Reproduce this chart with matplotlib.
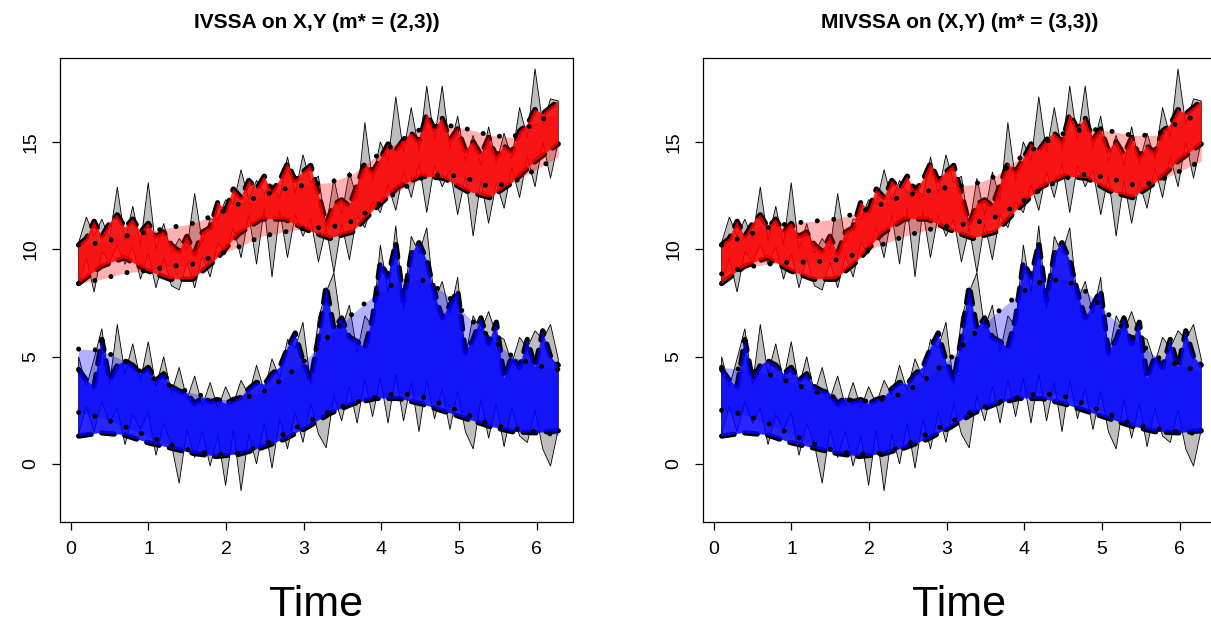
import matplotlib
matplotlib.use("Agg")
import matplotlib.pyplot as plt
import numpy as np

plt.rcParams["font.family"] = ["Liberation Sans", "DejaVu Sans"]

# time grids: fine for the noisy series, coarse for the smooth curves
t = np.linspace(0.1, 6.28, 63)
ts = np.linspace(0.1, 6.28, 22)

# ---- X series (red) ----
x_obs_lo = [8.3, 9.6, 8.0, 9.9, 9.4, 10.2, 9.3, 10.1, 8.6, 9.8, 8.2, 9.6, 8.3, 8.1, 9.4,
            8.2, 9.7, 8.7, 10.3, 9.8, 11.0, 9.6, 11.6, 9.3, 11.9, 8.7, 11.8, 9.6, 11.6,
            10.6, 11.4, 9.4, 11.0, 8.9, 11.2, 9.5, 11.6, 11.0, 12.2, 11.7, 13.0, 11.8,
            13.6, 12.4, 14.0, 11.7, 13.9, 12.9, 13.7, 11.6, 13.4, 10.6, 13.2, 11.2, 13.1,
            11.9, 13.8, 12.4, 14.3, 12.9, 15.0, 13.3, 15.0]
x_obs_hi = [10.3, 11.5, 10.6, 11.4, 10.5, 12.9, 10.4, 12.0, 10.2, 13.1, 10.0, 11.2, 9.8,
            10.5, 10.0, 12.6, 10.3, 11.4, 11.4, 12.3, 12.1, 13.7, 12.3, 13.2, 12.6, 13.0,
            12.4, 14.3, 12.6, 14.4, 13.1, 13.4, 11.0, 13.3, 11.6, 13.6, 12.3, 15.9, 13.2,
            15.0, 14.1, 17.1, 14.5, 16.6, 14.6, 17.6, 15.1, 17.6, 14.7, 16.2, 14.1, 15.3,
            13.9, 15.7, 14.0, 15.4, 14.2, 16.6, 15.2, 18.4, 15.8, 17.0, 16.9]
x_true_lo = [8.4, 9.2, 9.6, 9.0, 8.6, 8.6, 9.5, 10.7, 11.4, 11.4, 10.9, 10.5, 10.8, 11.9,
             12.9, 13.4, 13.3, 12.7, 12.4, 13.1, 14.1, 14.9]
x_true_hi = [10.2, 10.5, 11.3, 10.6, 11.2, 11.6, 11.0, 11.4, 10.8, 11.2, 10.6, 10.8, 10.2,
             9.9, 10.6, 9.8, 10.8, 11.0, 12.2, 11.8, 12.8, 12.4, 13.2, 12.8, 13.4, 12.7,
             13.2, 14.0, 13.2, 13.6, 13.9, 12.6, 11.2, 12.1, 12.3, 12.0, 13.0, 14.0, 13.6,
             14.2, 14.9, 14.6, 15.1, 15.4, 15.0, 16.3, 15.6, 16.1, 15.1, 15.6, 14.6, 15.0,
             14.4, 15.2, 14.3, 14.8, 14.5, 15.5, 15.8, 16.5, 16.3, 16.6, 16.9]
x_ivssa_lo = [8.4, 8.6, 8.9, 9.0, 9.2, 9.3, 9.7, 10.1, 10.6, 10.8, 11.0, 11.0, 11.3, 12.0,
              12.7, 13.3, 13.5, 13.3, 12.9, 13.1, 13.7, 14.3]
x_ivssa_hi = [10.2, 10.3, 10.6, 10.8, 11.0, 11.2, 11.6, 12.1, 12.5, 12.8, 13.0, 13.1, 13.5,
              14.3, 15.0, 15.6, 15.8, 15.6, 15.3, 15.2, 15.9, 16.4]
x_mivssa_lo = [8.85, 9.15, 9.3, 9.4, 9.4, 9.5, 9.8, 10.2, 10.6, 10.9, 11.1, 11.2, 11.5,
               12.1, 12.8, 13.3, 13.5, 13.3, 13.0, 13.1, 13.6, 14.1]
x_mivssa_hi = [10.2, 10.6, 11.0, 11.2, 11.3, 11.4, 11.7, 12.1, 12.5, 12.7, 12.9, 13.0, 13.4,
               14.2, 14.9, 15.4, 15.6, 15.5, 15.3, 15.3, 15.9, 16.3]

# ---- Y series (blue) ----
y_obs_lo = [1.4, 2.7, 1.5, 2.9, 1.9, 2.6, 0.9, 2.3, 1.6, 2.4, 0.4, 1.9, 0.9, -0.9, 1.6,
            0.3, 1.5, -0.1, 1.3, -1.0, 1.6, -1.25, 1.4, 0.0, 1.9, -0.2, 2.1, 0.7, 2.4, 1.0,
            2.8, 1.4, 0.75, 3.2, 2.0, 3.6, 1.9, 3.9, 2.2, 4.0, 1.9, 4.2, 2.0, 3.8, 1.5, 3.9,
            2.1, 3.5, 1.6, 3.4, 1.5, 0.7, 3.0, 1.2, 2.8, 0.8, 2.6, 1.3, 1.0, 2.5, 0.7, -0.1,
            1.6]
y_obs_hi = [5.0, 3.6, 4.9, 6.3, 3.7, 6.5, 4.2, 5.6, 3.9, 5.7, 3.6, 5.0, 3.3, 4.5, 3.0, 4.1,
            2.7, 3.8, 2.6, 3.6, 2.8, 3.9, 3.2, 4.6, 3.4, 4.9, 4.0, 5.8, 5.4, 6.6, 3.7, 6.8,
            8.0, 8.9, 6.3, 7.4, 5.2, 6.9, 6.4, 10.2, 8.0, 11.1, 7.2, 10.6, 9.8, 11.0, 7.6,
            8.5, 7.0, 8.7, 5.0, 6.9, 6.2, 7.1, 6.0, 5.8, 4.7, 5.9, 5.4, 6.2, 5.8, 6.5, 4.9]
y_true_lo = [1.3, 1.45, 1.35, 1.0, 0.75, 0.5, 0.35, 0.45, 0.75, 1.15, 1.7, 2.35, 2.8, 3.05,
             3.05, 2.8, 2.45, 2.1, 1.75, 1.5, 1.45, 1.55]
y_true_hi = [4.4, 3.9, 3.6, 5.8, 3.9, 4.6, 4.8, 4.6, 4.2, 4.5, 3.9, 4.2, 3.6, 3.4, 3.3, 2.8,
             3.1, 2.9, 3.0, 2.8, 3.0, 3.1, 3.5, 3.8, 3.7, 4.2, 4.5, 5.4, 6.1, 4.8, 3.9, 5.9,
             8.3, 6.3, 6.8, 5.9, 5.7, 5.4, 6.8, 9.4, 8.7, 10.3, 7.6, 9.8, 10.3, 9.5, 8.0,
             6.8, 7.4, 8.1, 5.2, 5.8, 6.8, 5.6, 6.6, 4.0, 5.0, 4.5, 5.8, 4.5, 6.2, 5.0, 4.6]
y_ivssa_lo = [2.4, 2.15, 1.75, 1.3, 0.9, 0.6, 0.45, 0.5, 0.85, 1.4, 1.95, 2.45, 2.85, 3.1,
              3.3, 3.15, 2.75, 2.3, 1.85, 1.65, 1.5, 1.35]
y_ivssa_hi = [5.35, 5.3, 4.8, 4.1, 3.65, 3.3, 3.0, 3.0, 3.3, 4.0, 4.9, 6.0, 7.0, 7.9, 8.5,
              8.6, 8.0, 6.9, 5.9, 5.0, 4.6, 4.4]
y_mivssa_lo = [2.5, 2.3, 1.9, 1.4, 0.95, 0.6, 0.45, 0.5, 0.85, 1.4, 1.95, 2.45, 2.85, 3.1,
               3.3, 3.15, 2.75, 2.3, 1.85, 1.65, 1.5, 1.4]
y_mivssa_hi = [4.5, 4.4, 4.2, 3.8, 3.4, 3.1, 2.9, 3.0, 3.3, 4.0, 4.9, 6.0, 7.0, 7.9, 8.5,
               8.6, 8.0, 6.9, 5.9, 5.0, 4.6, 4.3]

titles = ["IVSSA on X,Y (m* = (2,3))", "MIVSSA on (X,Y) (m* = (3,3))"]
recon = [
    (x_ivssa_lo, x_ivssa_hi, y_ivssa_lo, y_ivssa_hi),
    (x_mivssa_lo, x_mivssa_hi, y_mivssa_lo, y_mivssa_hi),
]

W, H = 1211, 625
fig = plt.figure(figsize=(W / 100, H / 100), dpi=100)
boxes = [(60, 58, 513, 464), (703, 58, 513, 464)]

dash = dict(color="black", lw=3.8, linestyle=(0, (2.4, 2.0)), dash_capstyle="round")
dots = dict(color="black", lw=3.6, linestyle=(0, (0.01, 3.3)), dash_capstyle="round")


def band(ax, obs_lo, obs_hi, tr_lo, tr_hi, rc_lo, rc_hi, col):
    ax.fill(np.r_[t, t[::-1]], np.r_[obs_hi, obs_lo[::-1]],
            facecolor="#bebebe", edgecolor="black", lw=0.6, zorder=1)
    ax.plot(ts, tr_lo, zorder=2, **dash)
    ax.plot(t, tr_hi, zorder=2, **dash)
    ax.fill_between(ts, rc_lo, rc_hi, color=col, alpha=0.3, lw=0, zorder=3)
    ax.fill(np.r_[t, ts[::-1]], np.r_[tr_hi, np.asarray(tr_lo)[::-1]],
            color=col, alpha=0.85, lw=0, zorder=4)
    ax.plot(ts, rc_lo, zorder=5, **dots)
    ax.plot(ts, rc_hi, zorder=5, **dots)


for k, (x0, y0, w, h) in enumerate(boxes):
    ax = fig.add_axes([x0 / W, 1 - (y0 + h) / H, w / W, h / H])
    xl, xh, yl, yh = recon[k]
    band(ax, np.array(x_obs_lo), np.array(x_obs_hi), x_true_lo, x_true_hi, xl, xh, "#ff0000")
    band(ax, np.array(y_obs_lo), np.array(y_obs_hi), y_true_lo, y_true_hi, yl, yh, "#0000ff")
    ax.set_xlim(-0.14, 6.47)
    ax.set_ylim(-2.7, 18.9)
    ax.set_xticks(range(7))
    ax.set_yticks([0, 5, 10, 15])
    ax.tick_params(axis="both", direction="out", length=6, width=0.9, labelsize=14)
    ax.tick_params(axis="x", pad=8)
    ax.tick_params(axis="y", pad=9)
    for lab in ax.get_yticklabels():
        lab.set_rotation(90)
        lab.set_va("center")
    for s in ax.spines.values():
        s.set_linewidth(0.9)
    ax.text(0.5, 1 + 36 / h, titles[k], transform=ax.transAxes, ha="center",
            va="center", fontsize=15, fontweight="bold")
    ax.text(0.5, -83 / h, "Time", transform=ax.transAxes, ha="center", va="center",
            fontsize=31)

fig.savefig("out.png", dpi=100)
